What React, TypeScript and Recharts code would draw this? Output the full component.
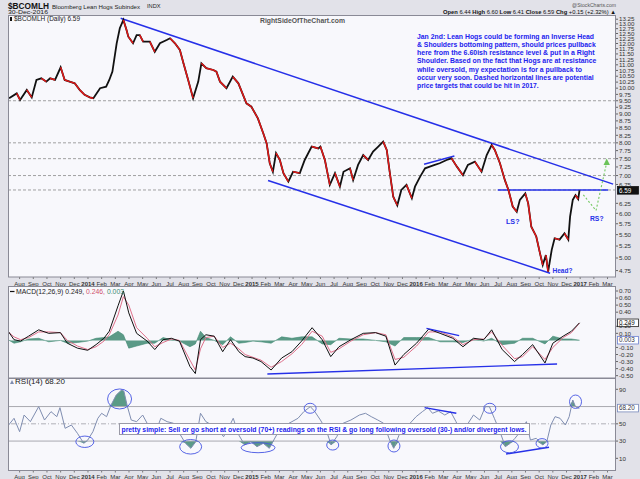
import React from "react";
import { ComposedChart, Line, Area, XAxis, YAxis, ReferenceLine, ReferenceDot } from "recharts";

// ---- data (Lean Hogs subindex, daily, Jul 2013 - Dec 2016) ----

const priceDates = [
  "2013-07-08", "2013-07-25", "2013-08-02", "2013-08-17", "2013-08-28", "2013-09-08", "2013-09-19", "2013-09-30",
  "2013-10-08", "2013-10-19", "2013-11-01", "2013-11-10", "2013-11-21", "2013-12-02", "2013-12-13", "2013-12-24",
  "2014-01-05", "2014-01-13", "2014-01-28", "2014-02-11", "2014-02-18", "2014-02-25", "2014-03-04", "2014-03-11",
  "2014-03-19", "2014-03-26", "2014-03-30", "2014-04-10", "2014-04-18", "2014-04-25", "2014-05-02", "2014-05-17",
  "2014-05-28", "2014-06-09", "2014-06-24", "2014-07-01", "2014-07-12", "2014-07-23", "2014-07-31", "2014-08-11",
  "2014-08-22", "2014-09-03", "2014-09-10", "2014-09-21", "2014-10-06", "2014-10-13", "2014-10-21", "2014-11-05",
  "2014-11-19", "2014-12-01", "2014-12-19", "2014-12-30", "2015-01-14", "2015-01-26", "2015-02-03", "2015-02-10",
  "2015-02-17", "2015-02-24", "2015-03-02", "2015-03-10", "2015-03-21", "2015-04-01", "2015-04-16", "2015-04-27",
  "2015-05-12", "2015-05-27", "2015-06-01", "2015-06-11", "2015-06-22", "2015-07-03", "2015-07-14", "2015-07-22",
  "2015-08-06", "2015-08-13", "2015-08-24", "2015-09-05", "2015-09-16", "2015-09-27", "2015-10-08", "2015-10-19",
  "2015-10-27", "2015-11-03", "2015-11-11", "2015-11-20", "2015-11-29", "2015-12-10", "2015-12-22", "2015-12-29",
  "2016-01-10", "2016-01-21", "2016-02-01", "2016-02-12", "2016-02-23", "2016-03-08", "2016-03-19", "2016-03-31",
  "2016-04-14", "2016-04-25", "2016-05-10", "2016-05-25", "2016-06-06", "2016-06-17", "2016-06-24", "2016-07-05",
  "2016-07-16", "2016-07-24", "2016-08-03", "2016-08-12", "2016-08-19", "2016-08-31", "2016-09-07", "2016-09-14",
  "2016-09-25", "2016-10-03", "2016-10-09", "2016-10-16", "2016-10-21", "2016-10-29", "2016-11-05", "2016-11-16",
  "2016-11-27", "2016-12-05", "2016-12-09", "2016-12-15", "2016-12-21", "2016-12-27", "2016-12-30",
];
const priceClose = [
  9.6, 9.79, 9.53, 9.93, 9.63, 10.34, 10.41, 10.27,
  10.41, 10.34, 10.89, 10.34, 10.27, 10.2, 9.93, 9.73,
  9.63, 9.6, 10.0, 10.06, 10.34, 10.7, 12.01, 12.77,
  13.21, 12.68, 12.34, 12.01, 12.42, 12.42, 12.09, 12.09,
  11.6, 12.01, 12.17, 12.26, 12.01, 11.69, 11.07, 10.34,
  9.6, 10.27, 11.07, 10.85, 10.77, 10.7, 10.27, 10.0,
  10.48, 10.2, 9.4, 9.27, 8.84, 8.32, 7.99, 7.36,
  7.11, 7.67, 7.46, 7.07, 6.83, 7.11, 7.07, 7.46,
  7.88, 7.82, 7.88, 7.46, 6.74, 7.07, 6.69, 7.11,
  7.21, 6.87, 7.31, 7.61, 7.46, 7.72, 7.88, 8.04,
  7.77, 7.11, 6.42, 6.2, 6.6, 6.74, 6.38, 6.69,
  6.97, 7.21, 7.26, 7.31, 7.36, 7.46, 7.51, 7.26,
  7.01, 7.31, 7.41, 7.11, 7.61, 7.93, 7.77, 7.36,
  6.87, 6.6, 6.17, 6.04, 6.34, 6.51, 6.25, 5.68,
  5.46, 5.09, 4.86, 5.06, 4.73, 5.17, 5.42, 5.39,
  5.53, 5.39, 5.92, 6.34, 6.46, 6.36, 6.59,
];

const macdDates = [
  "2013-07-06", "2013-07-19", "2013-08-03", "2013-08-21", "2013-09-13", "2013-10-05", "2013-10-31", "2013-11-16",
  "2013-12-08", "2013-12-31", "2014-01-19", "2014-02-06", "2014-02-18", "2014-03-07", "2014-03-19", "2014-03-31",
  "2014-04-18", "2014-05-11", "2014-05-28", "2014-06-16", "2014-07-04", "2014-07-22", "2014-08-15", "2014-08-27",
  "2014-09-08", "2014-09-20", "2014-10-08", "2014-10-27", "2014-11-14", "2014-12-02", "2014-12-16", "2015-01-03",
  "2015-01-21", "2015-02-13", "2015-03-06", "2015-03-29", "2015-04-20", "2015-05-13", "2015-06-05", "2015-06-24",
  "2015-07-12", "2015-08-08", "2015-09-05", "2015-10-02", "2015-10-25", "2015-11-15", "2015-12-04", "2016-01-02",
  "2016-01-29", "2016-02-24", "2016-03-22", "2016-04-14", "2016-05-07", "2016-05-30", "2016-06-17", "2016-07-10",
  "2016-08-07", "2016-08-25", "2016-09-17", "2016-10-14", "2016-11-01", "2016-11-24", "2016-12-12", "2016-12-30",
];
const macdLine = [
  0.13, 0.01, -0.01, 0.06, 0.15, 0.1, 0.11, -0.04,
  -0.11, -0.14, -0.06, 0.03, 0.13, 0.49, 0.7, 0.39,
  0.1, -0.01, -0.13, 0.01, 0.03, -0.01, -0.37, -0.47,
  0.01, 0.08, 0.06, -0.16, 0.01, -0.16, -0.23, -0.25,
  -0.3, -0.42, -0.25, -0.16, -0.01, 0.18, 0.01, -0.23,
  -0.09, 0.01, 0.1, 0.11, 0.06, -0.35, -0.2, -0.04,
  0.16, 0.1, 0.03, -0.09, 0.03, 0.01, 0.15, -0.13,
  -0.3, -0.2, -0.06, -0.32, -0.04, 0.06, 0.13, 0.249,
];
const macdSignal = [
  0.12, 0.05, 0.01, 0.04, 0.12, 0.12, 0.11, 0.0,
  -0.08, -0.13, -0.09, -0.01, 0.08, 0.36, 0.62, 0.5,
  0.18, 0.03, -0.09, -0.03, 0.02, 0.0, -0.28, -0.42,
  -0.12, 0.04, 0.06, -0.1, -0.04, -0.12, -0.2, -0.24,
  -0.28, -0.38, -0.3, -0.19, -0.06, 0.13, 0.06, -0.17,
  -0.12, -0.01, 0.08, 0.11, 0.08, -0.27, -0.24, -0.08,
  0.12, 0.12, 0.05, -0.06, 0.01, 0.02, 0.12, -0.07,
  -0.26, -0.23, -0.09, -0.27, -0.1, 0.04, 0.11, 0.246,
];

const rsiDates = [
  "2013-07-07", "2013-07-19", "2013-08-01", "2013-08-11", "2013-08-25", "2013-09-13", "2013-09-26", "2013-10-10",
  "2013-10-23", "2013-10-30", "2013-11-11", "2013-11-25", "2013-12-08", "2013-12-22", "2013-12-31", "2014-01-12",
  "2014-01-23", "2014-02-01", "2014-02-12", "2014-02-22", "2014-03-03", "2014-03-15", "2014-03-20", "2014-03-28",
  "2014-04-06", "2014-04-18", "2014-05-01", "2014-05-15", "2014-05-29", "2014-06-11", "2014-06-25", "2014-07-09",
  "2014-07-22", "2014-08-05", "2014-08-17", "2014-08-28", "2014-09-08", "2014-09-20", "2014-10-03", "2014-10-17",
  "2014-10-29", "2014-11-09", "2014-11-20", "2014-12-02", "2014-12-15", "2014-12-29", "2015-01-12", "2015-01-26",
  "2015-02-09", "2015-02-19", "2015-03-01", "2015-03-15", "2015-03-29", "2015-04-12", "2015-04-25", "2015-05-09",
  "2015-05-18", "2015-06-01", "2015-06-14", "2015-06-25", "2015-07-07", "2015-07-21", "2015-08-08", "2015-08-27",
  "2015-09-10", "2015-09-23", "2015-10-07", "2015-10-20", "2015-11-03", "2015-11-12", "2015-11-24", "2015-12-05",
  "2015-12-18", "2016-01-01", "2016-01-15", "2016-01-27", "2016-02-07", "2016-02-20", "2016-03-04", "2016-03-17",
  "2016-03-29", "2016-04-11", "2016-04-23", "2016-05-07", "2016-05-21", "2016-06-03", "2016-06-12", "2016-06-23",
  "2016-07-05", "2016-07-17", "2016-07-28", "2016-08-08", "2016-08-20", "2016-09-03", "2016-09-12", "2016-09-25",
  "2016-10-09", "2016-10-18", "2016-10-27", "2016-11-06", "2016-11-17", "2016-11-29", "2016-12-07", "2016-12-15",
  "2016-12-21", "2016-12-28", "2016-12-30",
];
const rsiValues = [
  48.6, 56.4, 40.9, 60.2, 52.5, 69.9, 54.4, 64.1,
  58.3, 68.7, 44.8, 48.6, 39.0, 27.4, 31.2, 40.9,
  56.4, 62.2, 58.3, 71.8, 83.4, 89.2, 88.0, 69.9,
  54.4, 52.5, 60.2, 46.7, 39.0, 56.4, 52.5, 50.6,
  39.0, 27.4, 21.6, 29.3, 62.2, 52.5, 48.6, 42.8,
  35.1, 44.8, 56.4, 37.0, 25.5, 29.3, 23.5, 27.4,
  21.6, 31.2, 42.8, 48.6, 52.5, 56.4, 64.1, 69.9,
  64.9, 54.4, 42.8, 25.5, 35.1, 50.6, 54.4, 60.2,
  62.2, 58.3, 54.4, 50.6, 31.2, 21.6, 37.0, 44.8,
  50.6, 58.3, 64.1, 68.7, 62.2, 64.9, 60.2, 64.1,
  52.5, 37.0, 48.6, 60.2, 54.4, 69.9, 69.9, 56.4,
  40.9, 23.5, 27.4, 33.2, 40.9, 52.5, 31.2, 33.2,
  25.5, 29.3, 48.6, 58.3, 56.4, 48.6, 58.3, 77.6,
  69.9, 68.0, 68.2,
];

// ticks
const monthLabels = [
  "Aug", "Sep", "Oct", "Nov", "Dec",
  "2014", "Feb", "Mar", "Apr", "May", "Jun", "Jul", "Aug", "Sep", "Oct", "Nov", "Dec",
  "2015", "Feb", "Mar", "Apr", "May", "Jun", "Jul", "Aug", "Sep", "Oct", "Nov", "Dec",
  "2016", "Feb", "Mar", "Apr", "May", "Jun", "Jul", "Aug", "Sep", "Oct", "Nov", "Dec",
  "2017", "Feb", "Mar",
];
const firstMonthTick = -5; // Aug 2013, in months from Jan 2014
// 6.50 sits under the last-price box in the reference
const priceTicks = [
  4.75, 5, 5.25, 5.5, 5.75, 6, 6.25, 6.75, 7, 7.25, 7.5, 7.75, 8, 8.25, 8.5, 8.75, 9,
  9.25, 9.5, 9.75, 10, 10.25, 10.5, 10.75, 11, 11.25, 11.5, 11.75, 12, 12.25, 12.5, 12.75, 13, 13.25,
];
// 0.30 and 0.00 sit under the value boxes
const macdTicks = [0.7, 0.6, 0.5, 0.4, 0.2, 0.1, -0.1, -0.2, -0.3, -0.4, -0.5];
const rsiTicks = [10, 30, 50, 90];

// annotations (month offset from Jan 2014, value)
const targetLevels = [9.5, 8.0, 7.5, 7.0, 6.6];
const priceTrendLines = [
  [{ x: 2.39, y: 13.3 }, { x: 38.41, y: 6.76 }],
  [{ x: 13.17, y: 6.86 }, { x: 33.8, y: 4.7 }],
  [{ x: 29.97, y: 6.6 }, { x: 38.04, y: 6.6 }],
  [{ x: 24.58, y: 7.33 }, { x: 26.8, y: 7.58 }],
];
const projectionPath = [
  { x: 36.23, y: 6.47 },
  { x: 37.16, y: 6.07 },
  { x: 37.94, y: 7.38 },
];
const macdTrendLines = [
  [{ x: 13.12, y: -0.476 }, { x: 34.31, y: -0.334 }],
  [{ x: 24.76, y: 0.17 }, { x: 27.15, y: 0.067 }],
];
const rsiTrendLines = [
  [{ x: 24.62, y: 68.7 }, { x: 26.94, y: 62.2 }],
  [{ x: 30.58, y: 15 }, { x: 33.72, y: 22.8 }],
];
const rsiCircles = [
  { x: -0.23, y: 29.2, rx: 9, ry: 5.7 },
  { x: 2.31, y: 78.8, rx: 12, ry: 10 },
  { x: 7.51, y: 23.4, rx: 11, ry: 7.3 },
  { x: 12.44, y: 22.3, rx: 17, ry: 5 },
  { x: 16.25, y: 68, rx: 6, ry: 5 },
  { x: 17.9, y: 25.4, rx: 6, ry: 5 },
  { x: 22.38, y: 24.3, rx: 6, ry: 6 },
  { x: 29.39, y: 68, rx: 6, ry: 5 },
  { x: 30.83, y: 23.4, rx: 9, ry: 6 },
  { x: 33.21, y: 27.4, rx: 6, ry: 4.7 },
  { x: 35.66, y: 75.6, rx: 6, ry: 6.7 },
];

const noteLines = [
  "Jan 2nd: Lean Hogs could be forming an Inverse Head",
  "& Shoulders bottoming pattern, should prices pullback",
  "here from the 6.60ish resistance level & put in a Right",
  "Shoulder. Based on the fact that Hogs are at resistance",
  "while oversold, my expectation is for a pullback to",
  "occur very soon. Dashed horizontal lines are potential",
  "price targets that could be hit in 2017.",
];
const noteWidths = [177, 178.7, 177.7, 179.3, 165, 176.7, 121.7];

// ---- helpers ----
const FONT = "'Liberation Sans', Arial, sans-serif";
const NARROW = "'Liberation Sans Narrow', 'Liberation Sans', Arial, sans-serif";
const BLUE = "#2630e8";
const X_DOMAIN: [number, number] = [-5.85, 38.62];
const monthTicks = monthLabels.map((_, i) => i + firstMonthTick);

function toMonths(d: string) {
  const [y, m, day] = d.split("-").map(Number);
  return (y - 2014) * 12 + (m - 1) + (day - 1) / 30.5;
}

// falling legs go into one of three red series (mod 3), so that they never join up
const priceData = priceDates.map((d, i) => {
  const row: any = { t: toMonths(d), close: priceClose[i], d0: null, d1: null, d2: null };
  return row;
});
for (let k = 0; k < priceClose.length - 1; k++) {
  if (priceClose[k + 1] < priceClose[k]) {
    const key = "d" + (k % 3);
    priceData[k][key] = priceClose[k];
    priceData[k + 1][key] = priceClose[k + 1];
  }
}
const macdData = macdDates.map((d, i) => ({
  t: toMonths(d),
  macd: macdLine[i],
  signal: macdSignal[i],
  hist: +(macdLine[i] - macdSignal[i]).toFixed(3),
}));
const rsiData = rsiDates.map((d, i) => ({
  t: toMonths(d),
  rsi: rsiValues[i],
  hi: Math.max(rsiValues[i], 70),
  lo: Math.min(rsiValues[i], 30),
}));

const lastClose = priceClose[priceClose.length - 1];
const lastMacd = macdLine[macdLine.length - 1];
const lastHist = macdData[macdData.length - 1].hist;
const lastRsi = rsiValues[rsiValues.length - 1];

function MonthTick(props: any) {
  const { x, y, payload } = props;
  const label = monthLabels[payload.value - firstMonthTick];
  const isYear = /^\d{4}$/.test(label);
  return (
    <text x={x} y={y + 4.5} textAnchor="middle" fontSize={6} fontFamily={FONT} fontWeight={isYear ? 700 : 400} fill="#333">
      {label}
    </text>
  );
}

function valueBox(text: string, bg: string, border: string, color: string) {
  return (p: any) => (
    <g>
      <rect x={p.cx + 1.5} y={p.cy - 3.8} width={21} height={7.6} fill={bg} stroke={border} strokeWidth={0.8} />
      <text x={p.cx + 3} y={p.cy + 2.2} fontSize={6.3} fontFamily={FONT} fill={color}>
        {text}
      </text>
    </g>
  );
}

const yTick = { fontSize: 6.2, fill: "#333", fontFamily: FONT };

export default function App() {
  return (
    <div style={{ position: "absolute", left: 0, top: 0, width: 640, height: 479, background: "#e2e2e9", overflow: "hidden" }}>
      {/* panel backgrounds */}
      <div style={{ position: "absolute", left: 8, top: 15, width: 608, height: 262, background: "#f8f8fc" }} />
      <div style={{ position: "absolute", left: 8, top: 286, width: 608, height: 92, background: "#f8f8fc" }} />
      <div style={{ position: "absolute", left: 8, top: 378, width: 608, height: 92.5, background: "#f8f8fc" }} />

      {/* price panel */}
      <div style={{ position: "absolute", left: 0, top: 15 }}>
        <ComposedChart width={640} height={272} data={priceData} margin={{ top: 0, right: 0, bottom: 0, left: 8 }}>
          <XAxis
            dataKey="t"
            type="number"
            domain={X_DOMAIN}
            allowDataOverflow
            ticks={monthTicks}
            interval={0}
            height={10}
            tickSize={2}
            axisLine={false}
            tickLine={{ stroke: "#777" }}
            tick={<MonthTick />}
          />
          <YAxis
            orientation="right"
            scale="log"
            domain={[4.627, 13.48]}
            allowDataOverflow
            ticks={priceTicks}
            interval={0}
            width={24}
            tickSize={2}
            tickMargin={1}
            axisLine={false}
            tickLine={{ stroke: "#666" }}
            tick={yTick}
            tickFormatter={(v: number) => v.toFixed(2)}
          />
          {targetLevels.map((lv) => (
            <ReferenceLine key={lv} y={lv} stroke="#8a8a8a" strokeDasharray="3 2" strokeWidth={0.8} />
          ))}
          {priceTrendLines.map((seg, i) => (
            <ReferenceLine key={"p" + i} segment={seg} stroke={BLUE} strokeWidth={1.5} ifOverflow="visible" />
          ))}
          <ReferenceLine segment={[projectionPath[0], projectionPath[1]]} stroke="#74c862" strokeDasharray="2 2" strokeWidth={1.1} ifOverflow="visible" />
          <ReferenceLine segment={[projectionPath[1], projectionPath[2]]} stroke="#74c862" strokeDasharray="2 2" strokeWidth={1.1} ifOverflow="visible" />
          <ReferenceDot
            x={projectionPath[2].x}
            y={projectionPath[2].y}
            ifOverflow="visible"
            shape={(p: any) => (
              <polygon points={`${p.cx},${p.cy - 4} ${p.cx - 3.2},${p.cy + 2.5} ${p.cx + 3.2},${p.cy + 2.5}`} fill="#6cc45a" />
            )}
          />
          <Line dataKey="close" stroke="#111" strokeWidth={1.8} dot={false} isAnimationActive={false} />
          <Line dataKey="d0" stroke="#e01818" strokeWidth={1.5} dot={false} connectNulls={false} isAnimationActive={false} />
          <Line dataKey="d1" stroke="#e01818" strokeWidth={1.5} dot={false} connectNulls={false} isAnimationActive={false} />
          <Line dataKey="d2" stroke="#e01818" strokeWidth={1.5} dot={false} connectNulls={false} isAnimationActive={false} />
          <ReferenceDot x={X_DOMAIN[1]} y={lastClose} ifOverflow="visible" shape={valueBox(lastClose.toFixed(2), "#111", "#111", "#fff")} />
        </ComposedChart>
      </div>

      {/* MACD panel */}
      <div style={{ position: "absolute", left: 0, top: 286 }}>
        <ComposedChart width={640} height={92} data={macdData} margin={{ top: 0, right: 0, bottom: 0, left: 8 }}>
          <XAxis dataKey="t" type="number" domain={X_DOMAIN} allowDataOverflow hide />
          <YAxis
            orientation="right"
            domain={[-0.533, 0.771]}
            allowDataOverflow
            ticks={macdTicks}
            interval={0}
            width={24}
            tickSize={2}
            tickMargin={1}
            axisLine={false}
            tickLine={{ stroke: "#666" }}
            tick={yTick}
            tickFormatter={(v: number) => v.toFixed(2)}
          />
          <Area dataKey="hist" baseValue={0} fill="#3f8a72" fillOpacity={0.85} stroke="#3f8a72" strokeWidth={0.6} isAnimationActive={false} />
          <Line dataKey="signal" stroke="#e0708a" strokeWidth={1} dot={false} isAnimationActive={false} />
          <Line dataKey="macd" stroke="#111" strokeWidth={1} dot={false} isAnimationActive={false} />
          {macdTrendLines.map((seg, i) => (
            <ReferenceLine key={"m" + i} segment={seg} stroke={BLUE} strokeWidth={1.4} ifOverflow="visible" />
          ))}
          <ReferenceDot x={X_DOMAIN[1]} y={lastMacd} ifOverflow="visible" shape={valueBox(lastMacd.toFixed(3), "#fff", "#222", "#111")} />
          <ReferenceDot x={X_DOMAIN[1]} y={lastHist} ifOverflow="visible" shape={valueBox(lastHist.toFixed(3), "#fff", "#6b7fd0", "#334")} />
        </ComposedChart>
      </div>

      {/* RSI panel */}
      <div style={{ position: "absolute", left: 0, top: 378 }}>
        <ComposedChart width={640} height={101} data={rsiData} margin={{ top: 0, right: 0, bottom: 0, left: 8 }}>
          <XAxis
            dataKey="t"
            type="number"
            domain={X_DOMAIN}
            allowDataOverflow
            ticks={monthTicks}
            interval={0}
            height={8.5}
            tickSize={2}
            axisLine={false}
            tickLine={{ stroke: "#777" }}
            tick={<MonthTick />}
          />
          <YAxis
            orientation="right"
            domain={[-4.1, 103.1]}
            allowDataOverflow
            ticks={rsiTicks}
            interval={0}
            width={24}
            tickSize={2}
            tickMargin={1}
            axisLine={false}
            tickLine={{ stroke: "#666" }}
            tick={yTick}
          />
          <ReferenceLine y={70} stroke="#a9a9b0" strokeWidth={1} />
          <ReferenceLine y={30} stroke="#a9a9b0" strokeWidth={1} />
          <ReferenceLine y={50} stroke="#b0b0b8" strokeDasharray="5 2 1 2" strokeWidth={1} />
          <Area dataKey="hi" baseValue={70} fill="#3f8a72" fillOpacity={0.85} stroke="none" isAnimationActive={false} />
          <Area dataKey="lo" baseValue={30} fill="#3f8a72" fillOpacity={0.85} stroke="none" isAnimationActive={false} />
          <Line dataKey="rsi" stroke="#7f8db0" strokeWidth={1} dot={false} isAnimationActive={false} />
          {rsiTrendLines.map((seg, i) => (
            <ReferenceLine key={"r" + i} segment={seg} stroke={BLUE} strokeWidth={1.4} ifOverflow="visible" />
          ))}
          {rsiCircles.map((c, i) => (
            <ReferenceDot
              key={"c" + i}
              x={c.x}
              y={c.y}
              ifOverflow="visible"
              shape={(p: any) => <ellipse cx={p.cx} cy={p.cy} rx={c.rx} ry={c.ry} fill="none" stroke="#4454e2" strokeWidth={0.9} />}
            />
          ))}
          <ReferenceDot x={X_DOMAIN[1]} y={lastRsi} ifOverflow="visible" shape={valueBox(lastRsi.toFixed(2), "#fff", "#7788bb", "#334")} />
        </ComposedChart>
      </div>

      {/* texts and frames */}
      <svg width={640} height={479} style={{ position: "absolute", left: 0, top: 0, pointerEvents: "none" }} fontFamily={FONT}>
        <rect x={8.5} y={15.5} width={607} height={261.5} fill="none" stroke="#8a8a96" />
        <rect x={8.5} y={286.5} width={607} height={91.5} fill="none" stroke="#8a8a96" />
        <rect x={8.5} y={378.5} width={607} height={92} fill="none" stroke="#8a8a96" />

        <text x={8} y={8.5} fontSize={8.3} fontWeight={700} fill="#111" textLength={41} lengthAdjust="spacingAndGlyphs">$BCOMLH</text>
        <text x={52} y={8.5} fontSize={6.1} fill="#222" textLength={88} lengthAdjust="spacingAndGlyphs">Bloomberg Lean Hogs Subindex</text>
        <text x={147} y={8.3} fontSize={5.3} fill="#222" textLength={13.5} lengthAdjust="spacingAndGlyphs">INDX</text>
        <text x={8} y={14.2} fontSize={6} fill="#222" textLength={40} lengthAdjust="spacingAndGlyphs">30-Dec-2016</text>
        <text x={572} y={7} fontSize={5.8} fill="#555" textLength={44} lengthAdjust="spacingAndGlyphs">@StockCharts.com</text>
        <text x={443} y={14} fontSize={6} fill="#111" textLength={173} lengthAdjust="spacingAndGlyphs">
          <tspan fontWeight={700}>Open </tspan><tspan>6.44 </tspan>
          <tspan fontWeight={700}>High </tspan><tspan>6.60 </tspan>
          <tspan fontWeight={700}>Low </tspan><tspan>6.41 </tspan>
          <tspan fontWeight={700}>Close </tspan><tspan>6.59 </tspan>
          <tspan fontWeight={700}>Chg </tspan><tspan>+0.15 (+2.32%) ▲</tspan>
        </text>

        <rect x={10} y={17} width={2} height={4} fill="#111" />
        <text x={14} y={20.6} fontSize={6.5} fill="#222" textLength={66} lengthAdjust="spacingAndGlyphs">$BCOMLH (Daily) {lastClose.toFixed(2)}</text>
        <text x={260} y={22.8} fontSize={7.2} fontWeight={700} fill="#555" textLength={85} lengthAdjust="spacingAndGlyphs">RightSideOfTheChart.com</text>

        {noteLines.map((line, i) => (
          <text key={i} x={417} y={39.3 + i * 8.05} fontFamily={NARROW} fontSize={7.6} fontWeight={700} fill="#2222ee" textLength={noteWidths[i]} lengthAdjust="spacingAndGlyphs">
            {line}
          </text>
        ))}
        <text x={506} y={224.2} fontSize={8} fontWeight={700} fill={BLUE} textLength={13.5} lengthAdjust="spacingAndGlyphs">LS?</text>
        <text x={590} y={220.5} fontSize={8} fontWeight={700} fill={BLUE} textLength={13.5} lengthAdjust="spacingAndGlyphs">RS?</text>
        <text x={552.5} y={273} fontSize={8} fontWeight={700} fill={BLUE} textLength={20} lengthAdjust="spacingAndGlyphs">Head?</text>

        <line x1={10} y1={291.5} x2={14.5} y2={291.5} stroke="#111" strokeWidth={1.2} />
        <text x={16} y={293.6} fontSize={6.5} textLength={108} lengthAdjust="spacingAndGlyphs">
          <tspan fill="#222">MACD(12,26,9) {lastMacd.toFixed(3)}, </tspan>
          <tspan fill="#d0506a">{macdSignal[macdSignal.length - 1].toFixed(3)}, </tspan>
          <tspan fill="#3f8a72">{lastHist.toFixed(3)}</tspan>
        </text>

        <polygon points="10,384 12,380 14,384" fill="#7f8db0" />
        <text x={15} y={383.8} fontSize={6.5} fill="#222" textLength={50} lengthAdjust="spacingAndGlyphs">RSI(14) {lastRsi.toFixed(2)}</text>

        <rect x={119.5} y={423.5} width={410} height={11} fill="#fff" stroke="#9a9aa6" />
        <text x={121.5} y={431.8} fontFamily={NARROW} fontSize={7.3} fontWeight={700} fill="#2222ee" textLength={405} lengthAdjust="spacingAndGlyphs">
          pretty simple: Sell or go short at oversold (70+) readings on the RSI &amp; go long following oversold (30-) and/or divergent lows.
        </text>
      </svg>
    </div>
  );
}
